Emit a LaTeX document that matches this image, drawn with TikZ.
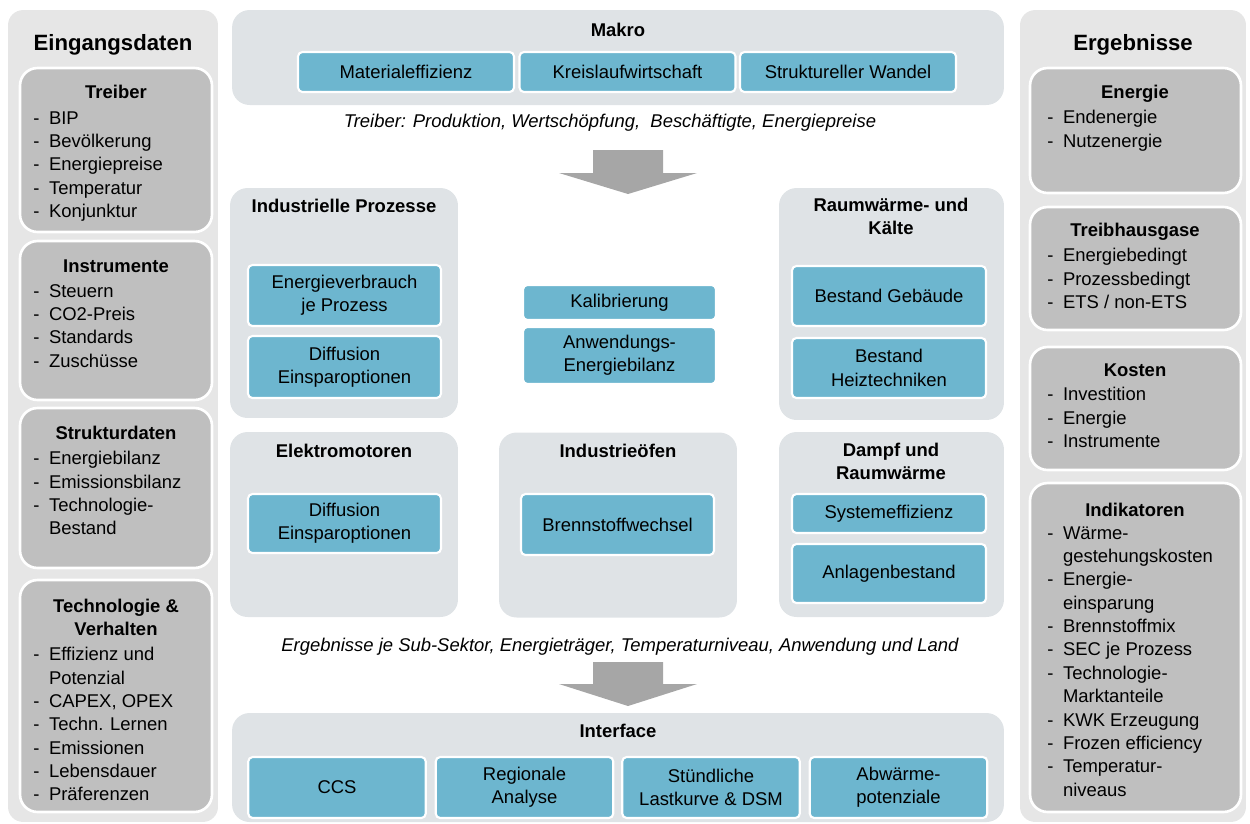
\documentclass[tikz,border=0pt]{standalone}
\usepackage{fontspec}
\setmainfont{Liberation Sans}
\definecolor{panelgrau}{HTML}{E6E6E6}
\definecolor{kastengrau}{HTML}{BFBFBF}
\definecolor{gruppengrau}{HTML}{DFE3E6}
\definecolor{modulblau}{HTML}{6DB6CF}
\definecolor{pfeilgrau}{HTML}{A6A6A6}
\newcommand{\grundschrift}{\fontsize{10.5}{13.3}\selectfont}
\newcommand{\strich}{\makebox[0.85em][l]{-}}
\newcommand{\weiter}{\hspace*{0.85em}}
\tikzset{
  panel/.style={fill=panelgrau, rounded corners=0.3cm, inner sep=0pt},
  kasten/.style={fill=kastengrau, draw=white, line width=1.5pt, rounded corners=0.35cm, inner sep=0pt},
  gruppe/.style={fill=gruppengrau, rounded corners=0.35cm, inner sep=0pt},
  modul/.style={fill=modulblau, draw=white, line width=1.2pt, rounded corners=2.5pt, align=center, inner sep=1pt, font=\grundschrift},
  titel/.style={font=\grundschrift\bfseries, align=center, text depth=0pt, inner sep=0pt},
  haupttitel/.style={font=\fontsize{12.6}{15}\selectfont\bfseries, text depth=0pt, inner sep=0pt},
  liste/.style={anchor=north west, align=left, inner sep=0pt, font=\grundschrift, execute at begin node=\strut},
  notiz/.style={font=\grundschrift\itshape, inner sep=0pt},
  pfeil/.style={fill=pfeilgrau}
}
\begin{document}
\begin{tikzpicture}[x=0.02cm, y=-0.02cm]
  \useasboundingbox (0,0) rectangle (1250,823);

  % Eingangsdaten (links)
  \node[panel, minimum width=4.2cm, minimum height=16.24cm] (eingang) at (113,416) {};
  \node[haupttitel] (eingangtitel) at (113,42) {Eingangsdaten};
  \node[kasten, minimum width=3.84cm, minimum height=3.28cm] (treiber) at (116,150) {};
  \node[kasten, minimum width=3.84cm, minimum height=3.18cm] (instrumente) at (116,320.5) {};
  \node[kasten, minimum width=3.84cm, minimum height=3.2cm] (struktur) at (116,488) {};
  \node[kasten, minimum width=3.84cm, minimum height=4.64cm] (technologie) at (116,696) {};
  \node[titel] (treibertitel) at (116,92) {Treiber};
  \node[liste] (treiberliste) at (33,111) {\strich BIP\\\strich Bevölkerung\\\strich Energiepreise\\\strich Temperatur\\\strich Konjunktur};
  \node[titel] (instrumentetitel) at (116,266) {Instrumente};
  \node[liste] (instrumenteliste) at (33,284) {\strich Steuern\\\strich CO2-Preis\\\strich Standards\\\strich Zuschüsse};
  \node[titel] (strukturtitel) at (116,433) {Strukturdaten};
  \node[liste] (strukturliste) at (33,451) {\strich Energiebilanz\\\strich Emissionsbilanz\\\strich Technologie-\\\weiter Bestand};
  \node[titel] (technologietitel) at (116,617) {Technologie \&\\Verhalten};
  \node[liste] (technologieliste) at (33,647) {\strich Effizienz und\\\weiter Potenzial\\\strich CAPEX, OPEX\\\strich Techn. Lernen\\\strich Emissionen\\\strich Lebensdauer\\\strich Präferenzen};

  % Ergebnisse (rechts)
  \node[panel, minimum width=4.52cm, minimum height=16.24cm] (ergebnis) at (1133,416) {};
  \node[haupttitel] (ergebnistitel) at (1133,42) {Ergebnisse};
  \node[kasten, minimum width=4.22cm, minimum height=2.5cm] (energie) at (1135.5,130.5) {};
  \node[kasten, minimum width=4.22cm, minimum height=2.46cm] (thg) at (1135.5,268.5) {};
  \node[kasten, minimum width=4.22cm, minimum height=2.46cm] (kosten) at (1135.5,408.5) {};
  \node[kasten, minimum width=4.22cm, minimum height=6.58cm] (indikatoren) at (1135.5,647.5) {};
  \node[titel] (energietitel) at (1135,92) {Energie};
  \node[liste] (energieliste) at (1047,110) {\strich Endenergie\\\strich Nutzenergie};
  \node[titel] (thgtitel) at (1135,230) {Treibhausgase};
  \node[liste] (thgliste) at (1047,248) {\strich Energiebedingt\\\strich Prozessbedingt\\\strich ETS / non-ETS};
  \node[titel] (kostentitel) at (1135,370) {Kosten};
  \node[liste] (kostenliste) at (1047,387) {\strich Investition\\\strich Energie\\\strich Instrumente};
  \node[titel] (indikatorentitel) at (1135,510) {Indikatoren};
  \node[liste] (indikatorenliste) at (1047,526) {\strich Wärme-\\\weiter gestehungskosten\\\strich Energie-\\\weiter einsparung\\\strich Brennstoffmix\\\strich SEC je Prozess\\\strich Technologie-\\\weiter Marktanteile\\\strich KWK Erzeugung\\\strich Frozen efficiency\\\strich Temperatur-\\\weiter niveaus};

  % Makro
  \node[gruppe, minimum width=15.44cm, minimum height=1.9cm] (makro) at (618,57.5) {};
  \node[titel] (makrotitel) at (618,30) {Makro};
  \foreach \x/\name/\txt in {406/material/Materialeffizienz, 627.5/kreislauf/Kreislaufwirtschaft, 848/wandel/Struktureller Wandel} {
    \node[modul, minimum width=4.32cm, minimum height=0.8cm] (\name) at (\x,72) {\txt};
  }
  \node[notiz] (treibernotiz) at (610,123) {Treiber: Produktion, Wertschöpfung,\ \ Beschäftigte, Energiepreise};
  \fill[pfeil] (593,150) -- (663,150) -- (663,173) -- (697,173) -- (628,194) -- (559,173) -- (593,173) -- cycle;

  % Module
  \node[gruppe, minimum width=4.56cm, minimum height=4.6cm] (prozesse) at (344,303) {};
  \node[titel] (prozessetitel) at (344,206) {Industrielle Prozesse};
  \node[modul, minimum width=3.86cm, minimum height=1.22cm] (verbrauch) at (344.5,295.5) {Energieverbrauch\\je Prozess};
  \node[modul, minimum width=3.86cm, minimum height=1.24cm] (diffusioneins) at (344.5,367) {Diffusion\\Einsparoptionen};

  \node[modul, minimum width=3.86cm, minimum height=0.7cm] (kalibrierung) at (619.5,302.5) {Kalibrierung};
  \node[modul, minimum width=3.86cm, minimum height=1.14cm] (bilanz) at (619.5,355.5) {Anwendungs-\\Energiebilanz};

  \node[gruppe, minimum width=4.5cm, minimum height=4.64cm] (raumwaerme) at (891.5,304) {};
  \node[titel] (raumwaermetitel) at (891,216.5) {Raumwärme- und\\Kälte};
  \node[modul, minimum width=3.88cm, minimum height=1.2cm] (gebaeude) at (889,296) {Bestand Gebäude};
  \node[modul, minimum width=3.88cm, minimum height=1.2cm] (heiztechnik) at (889,368) {Bestand\\Heiztechniken};

  \node[gruppe, minimum width=4.56cm, minimum height=3.7cm] (motoren) at (344,524.5) {};
  \node[titel] (motorentitel) at (344,451) {Elektromotoren};
  \node[modul, minimum width=3.86cm, minimum height=1.18cm] (diffusionzwei) at (344.5,523.5) {Diffusion\\Einsparoptionen};

  \node[gruppe, minimum width=4.76cm, minimum height=3.7cm] (oefen) at (618,525) {};
  \node[titel] (oefentitel) at (618,451) {Industrieöfen};
  \node[modul, minimum width=3.86cm, minimum height=1.22cm] (brennstoff) at (617.5,524.5) {Brennstoffwechsel};

  \node[gruppe, minimum width=4.5cm, minimum height=3.7cm] (dampf) at (891.5,524.5) {};
  \node[titel] (dampftitel) at (891,461.5) {Dampf und\\Raumwärme};
  \node[modul, minimum width=3.88cm, minimum height=0.78cm] (system) at (889,513.5) {Systemeffizienz};
  \node[modul, minimum width=3.88cm, minimum height=1.18cm] (anlagen) at (889,573.5) {Anlagenbestand};

  \node[notiz] (ergebnisnotiz) at (620,647) {Ergebnisse je Sub-Sektor, Energieträger, Temperaturniveau, Anwendung und Land};
  \fill[pfeil] (593,662) -- (663,662) -- (663,684) -- (697,684) -- (628,706) -- (559,684) -- (593,684) -- cycle;

  % Interface
  \node[gruppe, minimum width=15.44cm, minimum height=2.18cm] (interface) at (618,767.5) {};
  \node[titel] (interfacetitel) at (618,731) {Interface};
  \foreach \x/\name/\txt in {337/ccs/CCS, 524.5/regional/{Regionale\\Analyse}, 711/lastkurve/{Stündliche\\Lastkurve \& DSM}, 898.5/abwaerme/{Abwärme-\\potenziale}} {
    \node[modul, minimum width=3.55cm, minimum height=1.22cm] (\name) at (\x,787.5) {\txt};
  }
\end{tikzpicture}
\end{document}
